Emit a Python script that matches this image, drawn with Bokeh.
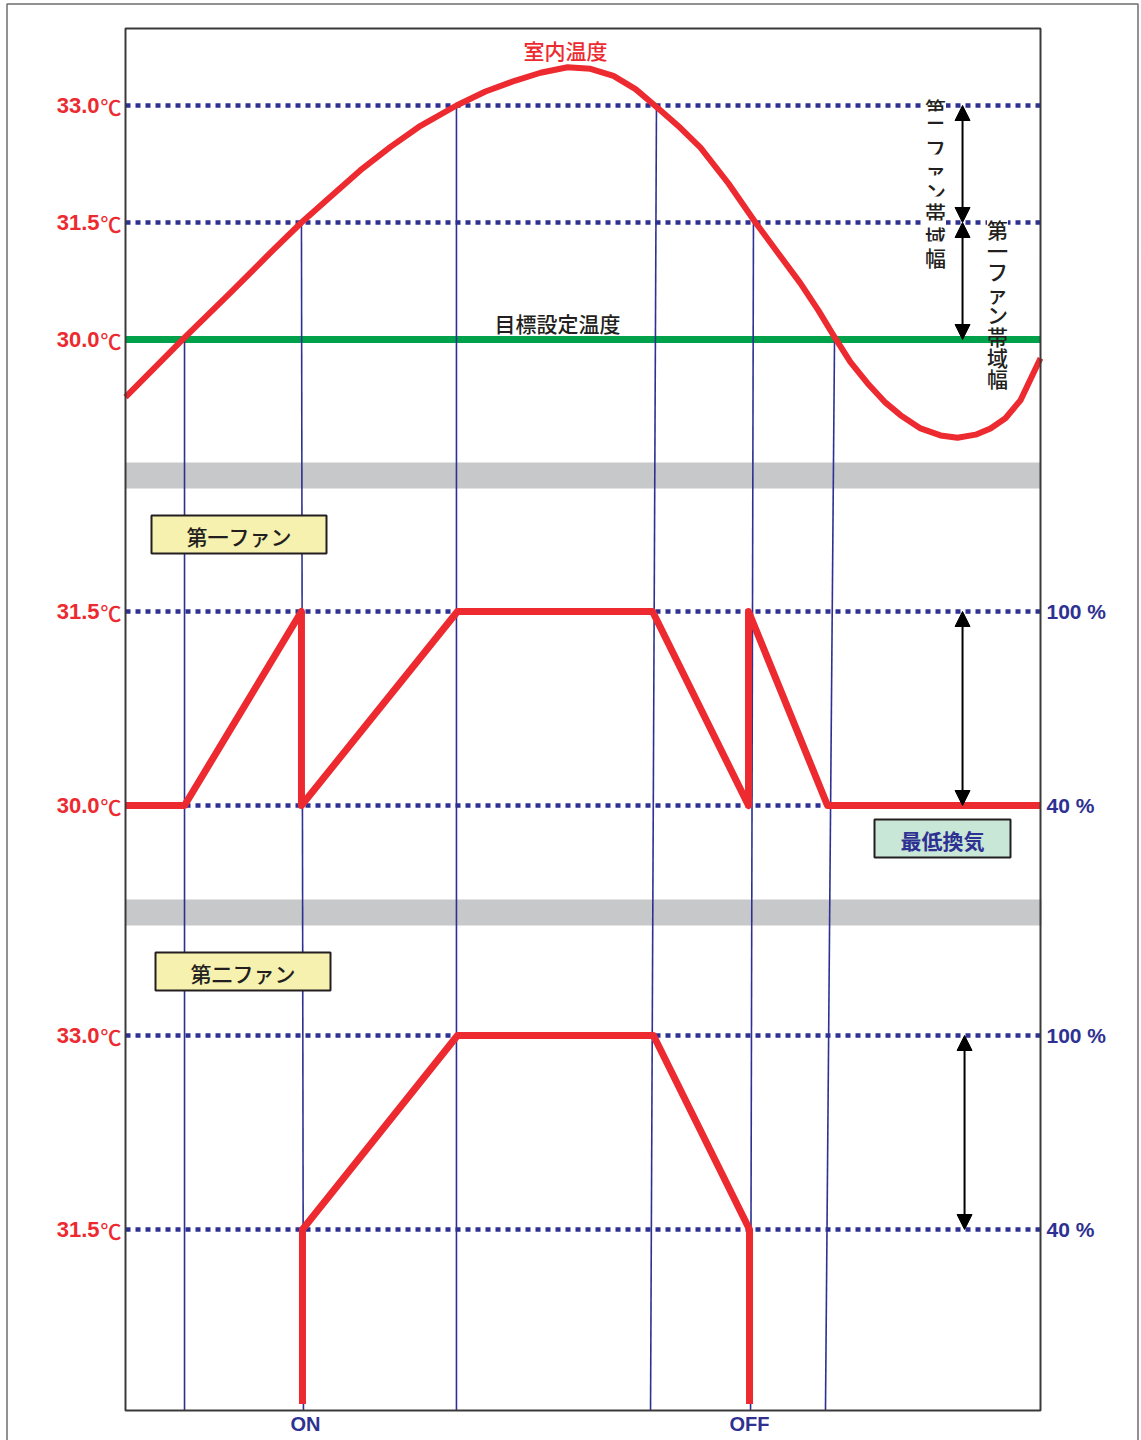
from bokeh.plotting import figure
from bokeh.models import Range1d, Arrow, NormalHead
from bokeh.core.properties import value
from bokeh.embed import file_html
from bokeh.resources import INLINE

# ---------------- data ----------------
# room temperature curve (time 0..100, deg C)
time_curve = [0.00, 6.34, 11.48, 16.07, 19.23, 22.40, 25.68, 28.96, 32.24, 36.17,
              39.34, 42.62, 45.36, 48.31, 50.82, 53.33, 55.74, 58.14, 60.66, 62.84,
              65.90, 68.85, 71.37, 73.77, 75.74, 77.60, 79.23, 81.09, 83.06, 84.70,
              86.89, 89.07, 90.93, 92.90, 94.54, 96.17, 97.81, 100.00]
temp_curve = [29.26, 30.01, 30.60, 31.14, 31.50, 31.83, 32.17, 32.47, 32.74, 33.00,
              33.18, 33.32, 33.42, 33.49, 33.47, 33.38, 33.21, 32.97, 32.71, 32.46,
              32.00, 31.50, 31.10, 30.72, 30.37, 30.01, 29.71, 29.44, 29.19, 29.03,
              28.86, 28.77, 28.74, 28.78, 28.86, 28.99, 29.22, 29.76]
setpoint = 30.0
top_levels = [33.0, 31.5]
top_labels = ["33.0", "31.5", "30.0"]
top_label_values = [33.0, 31.5, 30.0]

# event lines (time where temperature crosses a level)
event_level = [30.0, 31.5, 33.0, 33.0, 31.5, 30.0]
event_t_top = [6.45, 19.23, 36.17, 58.03, 68.63, 77.49]
event_t_bottom = [6.45, 19.45, 36.17, 57.38, 68.31, 76.50]

# first fan output (%)
fan1_t = [0.00, 6.45, 19.23, 19.23, 36.28, 57.60, 68.09, 68.09, 76.72, 100.00]
fan1_pct = [40, 40, 100, 40, 100, 100, 40, 100, 40, 40]
fan1_levels = [100, 40]
fan1_temp_labels = ["31.5", "30.0"]
fan1_pct_labels = ["100 %", "40 %"]

# second fan output (%), -14 = off (bottom of panel)
fan2_t = [19.34, 19.34, 36.28, 57.70, 68.20, 68.20]
fan2_pct = [-14, 40, 100, 100, 40, -14]
fan2_levels = [100, 40]
fan2_temp_labels = ["33.0", "31.5"]
fan2_pct_labels = ["100 %", "40 %"]

switch_labels = ["ON", "OFF"]
switch_t = [19.67, 68.20]

# ---------------- layout ----------------
FIG_W, FIG_H = 1141, 1440
PX_L, PX_R, PX_T, PX_B = 0, FIG_W, 0, FIG_H
BOX_L, BOX_R, BOX_T, BOX_B = 125, 1040, 28, 1410

RED = "#ec2a2f"
NAVY = "#2e3192"
GREEN = "#00a14b"
GRAY = "#c7c8ca"
DARK = "#231f20"
JP = value("'Noto Sans CJK JP Medium', 'Noto Sans CJK JP'")
JPB = value("Noto Sans CJK JP")
LAT = value("Liberation Sans")


def rng(v_a, p_a, v_b, p_b, p_start, p_end):
    k = (v_b - v_a) / (p_b - p_a)
    return Range1d(start=v_a + (p_start - p_a) * k, end=v_a + (p_end - p_a) * k)


x_time = rng(0, BOX_L, 100, BOX_R, PX_L, PX_R)
y_px = Range1d(start=PX_B, end=PX_T)
temp_r = rng(33.0, 105, 30.0, 339, PX_B, PX_T)
fan1_r = rng(100, 611, 40, 805, PX_B, PX_T)
fan2_r = rng(100, 1035, 40, 1229, PX_B, PX_T)

p = figure(width=FIG_W, height=FIG_H, x_range=x_time, y_range=y_px,
           x_axis_type=None, y_axis_type=None, toolbar_location=None,
           output_backend="svg", min_border=0)
p.extra_x_ranges = {"px": Range1d(start=PX_L, end=PX_R)}
p.extra_y_ranges = {"temp": temp_r, "fan1": fan1_r, "fan2": fan2_r}
p.grid.visible = False
p.outline_line_color = None
p.background_fill_color = "white"
p.border_fill_color = "white"

# outer frame
p.quad(left=[6.5], right=[1137.5], top=[3.5], bottom=[1450], x_range_name="px",
       fill_color=None, line_color="#6d6e71", line_width=1.5)

# box bottom in temperature units (for the event lines)
box_bottom_temp = temp_r.start + (PX_B - BOX_B) / (PX_B - PX_T) * (temp_r.end - temp_r.start)

# gray separator bands
p.quad(left=[BOX_L, BOX_L], right=[BOX_R, BOX_R + 1], top=[462, 899], bottom=[488, 925],
       x_range_name="px", fill_color=GRAY, line_color=None)

# dotted reference lines
dot = dict(line_color=NAVY, line_width=4.5, line_dash="5 5", line_cap="butt")
p.multi_line(xs=[[0, 100]] * len(top_levels), ys=[[v, v] for v in top_levels],
             y_range_name="temp", **dot)
p.multi_line(xs=[[0, 100]] * len(fan1_levels), ys=[[v, v] for v in fan1_levels],
             y_range_name="fan1", **dot)
p.multi_line(xs=[[0, 100]] * len(fan2_levels), ys=[[v, v] for v in fan2_levels],
             y_range_name="fan2", **dot)

# setpoint line
p.line([0, 100], [setpoint, setpoint], y_range_name="temp", line_color=GREEN, line_width=7)

# event lines
p.segment(x0=event_t_top, y0=event_level, x1=event_t_bottom,
          y1=[box_bottom_temp] * len(event_level), y_range_name="temp",
          line_color=NAVY, line_width=1.6)

# curves
p.line(time_curve, temp_curve, y_range_name="temp", line_color=RED, line_width=6,
       line_join="round")
p.line(fan1_t, fan1_pct, y_range_name="fan1", line_color=RED, line_width=7,
       line_join="round")
p.line(fan2_t, fan2_pct, y_range_name="fan2", line_color=RED, line_width=7,
       line_join="round")

# labelled boxes
p.quad(left=[151, 155], right=[326, 330], top=[515, 952], bottom=[553, 990],
       x_range_name="px", fill_color="#f6f1ae", line_color=DARK, line_width=2)
p.quad(left=[874], right=[1010], top=[819], bottom=[857],
       x_range_name="px", fill_color="#c9e7d6", line_color=DARK, line_width=2)
p.text(x=[238.5, 242.5], y=[535, 972], text=["第一ファン", "第二ファン"], x_range_name="px",
       text_font=JP, text_font_size="21px", text_color=DARK,
       text_align="center", text_baseline="middle")
p.text(x=[942], y=[839], text=["最低換気"], x_range_name="px",
       text_font=JPB, text_font_size="21px", text_color=NAVY, text_font_style="bold",
       text_align="center", text_baseline="middle")

# curve titles
p.text(x=[565], y=[49], text=["室内温度"], x_range_name="px", text_font=JP,
       text_font_size="21px", text_color=RED, text_align="center", text_baseline="middle")
p.text(x=[557], y=[322], text=["目標設定温度"], x_range_name="px", text_font=JP,
       text_font_size="21px", text_color=DARK, text_align="center", text_baseline="middle")

# vertical band labels
lab2 = list("第二ファン帯域幅")
lab1 = list("第一ファン帯域幅")
lab2_y = [107, 126, 147, 169, 190, 211, 235, 256]
p.text(x=[935] * len(lab2), y=lab2_y, text=lab2,
       x_range_name="px", text_font=JP, text_font_size="21px", text_color=DARK,
       text_align="center", text_baseline="middle",
       background_fill_color="white", padding=0)
p.text(x=[997], y=[228], text=lab1[:1], x_range_name="px", text_font=JP,
       text_font_size="21px", text_color=DARK, text_align="center", text_baseline="middle",
       background_fill_color="white", padding=0)
p.text(x=[997] * (len(lab1) - 1), y=[228 + 21.4 * i for i in range(1, len(lab1))],
       text=lab1[1:], x_range_name="px", text_font=JP, text_font_size="21px",
       text_color=DARK, text_align="center", text_baseline="middle")


# left temperature labels
def left_labels(labels, vals, rname):
    p.text(x=[99] * len(labels), y=vals, text=labels, x_range_name="px", y_range_name=rname,
           text_font=LAT, text_font_style="bold", text_font_size="22px", text_color=RED,
           text_align="right", text_baseline="middle")
    p.text(x=[100] * len(labels), y=vals, text=["℃"] * len(labels), x_range_name="px",
           y_range_name=rname, text_font=JP, text_font_size="21px", text_color=RED,
           text_align="left", text_baseline="middle")


def right_labels(labels, vals, rname):
    p.text(x=[1046] * len(labels), y=vals, text=labels, x_range_name="px", y_range_name=rname,
           text_font=LAT, text_font_style="bold", text_font_size="21px", text_color=NAVY,
           text_align="left", text_baseline="middle")


left_labels(top_labels, top_label_values, "temp")
left_labels(fan1_temp_labels, fan1_levels, "fan1")
left_labels(fan2_temp_labels, fan2_levels, "fan2")
right_labels(fan1_pct_labels, fan1_levels, "fan1")
right_labels(fan2_pct_labels, fan2_levels, "fan2")

# ON / OFF
p.text(x=switch_t, y=[1423] * len(switch_t), text=switch_labels, text_font=LAT,
       text_font_style="bold", text_font_size="20px", text_color=NAVY,
       text_align="center", text_baseline="middle")

# double arrows
arrow_t = 91.48


def darrow(y0, y1, rname, t=arrow_t):
    p.add_layout(Arrow(
        start=NormalHead(size=15, fill_color="black", line_color="black"),
        end=NormalHead(size=15, fill_color="black", line_color="black"),
        x_start=t, x_end=t, y_start=y0, y_end=y1, y_range_name=rname,
        line_color="black", line_width=2))


darrow(top_levels[0], top_levels[1], "temp")
darrow(top_levels[1], setpoint, "temp")
darrow(fan1_levels[0], fan1_levels[1], "fan1")
darrow(fan2_levels[0], fan2_levels[1], "fan2", t=91.7)

# plot box
p.quad(left=[0], right=[100], top=[BOX_T], bottom=[BOX_B], fill_color=None,
       line_color="#3a3a3a", line_width=2)

open("out.html", "w").write(file_html(p, INLINE))
